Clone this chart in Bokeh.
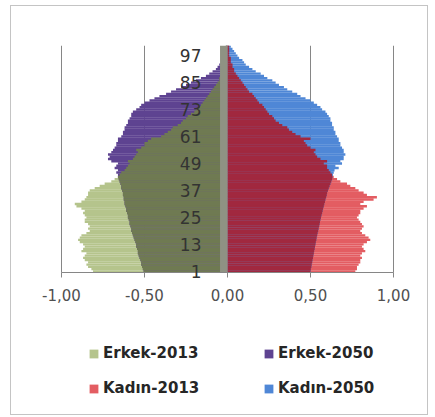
from bokeh.plotting import figure
from bokeh.models import (FixedTicker, Legend, LegendItem, LinearAxis, Range1d,
                          CustomJSTickFormatter, ColumnDataSource)
from bokeh.embed import file_html
from bokeh.resources import INLINE
import numpy as np

ages = list(range(1, 102))

erkek_2013 = [
    -0.81, -0.82, -0.84, -0.85, -0.84, -0.86, -0.87, -0.86, -0.85, -0.88,
    -0.87, -0.86, -0.87, -0.89, -0.90, -0.89, -0.88, -0.85, -0.83, -0.84,
    -0.83, -0.84, -0.86, -0.86, -0.85, -0.86, -0.87, -0.86, -0.88, -0.91,
    -0.92, -0.88, -0.86, -0.85, -0.84, -0.84, -0.83, -0.80, -0.77, -0.74,
    -0.70, -0.68, -0.66, -0.65, -0.64, -0.62, -0.61, -0.60, -0.59, -0.60,
    -0.57, -0.56, -0.55, -0.54, -0.55, -0.52, -0.50, -0.50, -0.48, -0.46,
    -0.40, -0.38, -0.36, -0.34, -0.33, -0.30, -0.28, -0.27, -0.25, -0.24,
    -0.22, -0.20, -0.19, -0.17, -0.16, -0.15, -0.14, -0.13, -0.12, -0.11,
    -0.10, -0.09, -0.08, -0.07, -0.06, -0.05, -0.05, -0.04, -0.04, -0.03,
    -0.03, -0.02, -0.02, -0.01, -0.01, -0.01, -0.01, -0.01, -0.01, -0.01,
    -0.01]

erkek_2050 = [
    -0.505, -0.51, -0.515, -0.52, -0.52, -0.525, -0.53, -0.535, -0.54, -0.54,
    -0.545, -0.55, -0.55, -0.555, -0.56, -0.565, -0.57, -0.575, -0.58, -0.58,
    -0.585, -0.59, -0.59, -0.595, -0.60, -0.60, -0.605, -0.61, -0.61, -0.615,
    -0.62, -0.62, -0.625, -0.625, -0.63, -0.63, -0.635, -0.64, -0.64, -0.645,
    -0.65, -0.655, -0.66, -0.66, -0.67, -0.66, -0.68, -0.67, -0.66, -0.70,
    -0.72, -0.71, -0.72, -0.70, -0.69, -0.68, -0.67, -0.67, -0.66, -0.66,
    -0.64, -0.63, -0.63, -0.62, -0.62, -0.61, -0.60, -0.60, -0.59, -0.58,
    -0.58, -0.57, -0.55, -0.53, -0.52, -0.50, -0.47, -0.44, -0.41, -0.37,
    -0.34, -0.31, -0.28, -0.25, -0.22, -0.19, -0.16, -0.13, -0.11, -0.09,
    -0.07, -0.06, -0.05, -0.04, -0.03, -0.03, -0.02, -0.02, -0.01, -0.01,
    -0.01]

kadin_2013 = [
    0.77, 0.78, 0.78, 0.79, 0.80, 0.80, 0.81, 0.80, 0.81, 0.83,
    0.82, 0.81, 0.82, 0.84, 0.86, 0.85, 0.83, 0.81, 0.80, 0.81,
    0.82, 0.81, 0.80, 0.79, 0.78, 0.79, 0.80, 0.80, 0.82, 0.84,
    0.80, 0.82, 0.88, 0.90, 0.84, 0.82, 0.79, 0.77, 0.74, 0.72,
    0.68, 0.66, 0.64, 0.63, 0.62, 0.61, 0.60, 0.60, 0.58, 0.60,
    0.56, 0.54, 0.53, 0.52, 0.53, 0.50, 0.48, 0.47, 0.46, 0.50,
    0.44, 0.41, 0.39, 0.37, 0.36, 0.33, 0.31, 0.29, 0.28, 0.27,
    0.25, 0.24, 0.23, 0.22, 0.21, 0.19, 0.18, 0.17, 0.16, 0.15,
    0.13, 0.12, 0.11, 0.10, 0.09, 0.08, 0.07, 0.06, 0.05, 0.04,
    0.04, 0.03, 0.03, 0.02, 0.02, 0.02, 0.01, 0.01, 0.01, 0.01,
    0.01]

kadin_2050 = [
    0.50, 0.502, 0.505, 0.507, 0.51, 0.512, 0.515, 0.517, 0.52, 0.522,
    0.525, 0.527, 0.53, 0.532, 0.535, 0.537, 0.54, 0.543, 0.546, 0.549,
    0.552, 0.555, 0.557, 0.56, 0.563, 0.566, 0.57, 0.573, 0.576, 0.58,
    0.583, 0.587, 0.59, 0.594, 0.598, 0.60, 0.605, 0.61, 0.615, 0.62,
    0.625, 0.63, 0.632, 0.635, 0.64, 0.645, 0.67, 0.65, 0.69, 0.68,
    0.70, 0.70, 0.71, 0.70, 0.70, 0.69, 0.68, 0.68, 0.67, 0.67,
    0.66, 0.65, 0.65, 0.64, 0.64, 0.63, 0.63, 0.62, 0.62, 0.61,
    0.60, 0.59, 0.57, 0.56, 0.54, 0.52, 0.50, 0.47, 0.44, 0.42,
    0.39, 0.36, 0.34, 0.31, 0.29, 0.27, 0.24, 0.22, 0.20, 0.17,
    0.15, 0.13, 0.11, 0.10, 0.09, 0.07, 0.06, 0.05, 0.04, 0.03,
    0.02]

x_ticks = [-1.0, -0.5, 0.0, 0.5, 1.0]
grid_ticks = [-1.0, -0.5, 0.5, 1.0]
y_ticks = [1, 13, 25, 37, 49, 61, 73, 85, 97]
series_names = ["Erkek-2013", "Erkek-2050", "Kadın-2013", "Kadın-2050"]

C_M13 = "#B5C48C"
C_M50 = "#5E4391"
C_MOV = "#6F7A52"
C_F13 = "#E35D62"
C_F50 = "#4F87D6"
C_FOV = "#A1283F"
FONT = "DejaVu Sans"

m13 = np.array(erkek_2013)
m50 = np.array(erkek_2050)
f13 = np.array(kadin_2013)
f50 = np.array(kadin_2050)

src = ColumnDataSource(dict(
    age=ages, m13=m13, m50=m50, mov=np.maximum(m13, m50),
    f13=f13, f50=f50, fov=np.minimum(f13, f50), zero=np.zeros(len(ages))))

# ---- layout (page pixels) ----
ORIGIN_X, ORIGIN_Y = 11, 6          # content origin (margin + border)
AX_L, AX_R = 61, 393                 # pixel positions of -1 and +1
FR_L, FR_R = 20, 425                 # frame extent (wider, so end labels are not clipped)
FR_T, FR_B = 45, 410
BAR_B = 272                          # bottom of the bar area
PXU = (AX_R - AX_L) / 2.0
x_start = -1 - (AX_L - FR_L) / PXU
x_end = 1 + (FR_R - AX_R) / PXU
Y_TOP = 101.5
Y_BARS0 = 0.5
y_per_px = (Y_TOP - Y_BARS0) / (BAR_B - FR_T)
y_start = Y_TOP - (FR_B - FR_T) * y_per_px

W, H = 418, 410
p = figure(width=W, height=H, x_range=Range1d(x_start, x_end), y_range=Range1d(y_start, Y_TOP),
           output_backend="svg", toolbar_location=None, y_axis_location=None,
           min_border_left=FR_L - ORIGIN_X, min_border_right=ORIGIN_X + W - FR_R,
           min_border_top=FR_T - ORIGIN_Y, min_border_bottom=ORIGIN_Y + H - FR_B)
p.styles = {"border": "1px solid #c4c4c4", "margin-left": "10px", "margin-top": "5px"}
p.outline_line_color = None
p.background_fill_color = "white"
p.border_fill_color = "white"
p.xgrid.grid_line_color = None
p.ygrid.grid_line_color = None

# vertical gridlines limited to the bar area
p.segment(x0=grid_ticks, y0=[Y_BARS0] * len(grid_ticks), x1=grid_ticks,
          y1=[Y_TOP] * len(grid_ticks), line_color="#868686", line_width=1)

BH = 1.06
r_m13 = p.hbar(y="age", height=BH, left="m13", right="zero", source=src,
               fill_color=C_M13, line_color=None)
r_m50 = p.hbar(y="age", height=BH, left="m50", right="zero", source=src,
               fill_color=C_M50, line_color=None)
p.hbar(y="age", height=BH, left="mov", right="zero", source=src,
       fill_color=C_MOV, line_color=None)
r_f13 = p.hbar(y="age", height=BH, left="zero", right="f13", source=src,
               fill_color=C_F13, line_color=None)
r_f50 = p.hbar(y="age", height=BH, left="zero", right="f50", source=src,
               fill_color=C_F50, line_color=None)
p.hbar(y="age", height=BH, left="zero", right="fov", source=src,
       fill_color=C_FOV, line_color=None)
# grey axis strip
p.quad(left=-0.045, right=0.0, bottom=Y_BARS0, top=Y_TOP, fill_color="#8f9283",
       line_color=None)

# x axis drawn at the bottom of the bars
p.xaxis.fixed_location = Y_BARS0
p.xaxis.bounds = (-1, 1)
p.xaxis.ticker = FixedTicker(ticks=x_ticks)
p.xaxis.formatter = CustomJSTickFormatter(code="return tick.toFixed(2).replace('.', ',');")
p.xaxis.axis_line_color = "#868686"
p.xaxis.major_tick_line_color = "#868686"
p.xaxis.major_tick_out = 5
p.xaxis.major_tick_in = 0
p.xaxis.minor_tick_line_color = None
p.xaxis.major_label_text_font = FONT
p.xaxis.major_label_text_font_size = "15px"
p.xaxis.major_label_text_color = "#505050"
p.xaxis.major_label_standoff = 11

# y axis at x = 0
yax = LinearAxis(fixed_location=0, ticker=FixedTicker(ticks=y_ticks))
yax.axis_line_color = None
yax.major_tick_line_color = None
yax.minor_tick_line_color = None
yax.major_label_text_font = FONT
yax.major_label_text_font_size = "17px"
yax.major_label_text_color = "#333333"
yax.major_label_standoff = 20
p.add_layout(yax, "left")

legend = Legend(items=[
    LegendItem(label=series_names[0], renderers=[r_m13]),
    LegendItem(label=series_names[2], renderers=[r_f13]),
    LegendItem(label=series_names[1], renderers=[r_m50]),
    LegendItem(label=series_names[3], renderers=[r_f50]),
], location=(88 - FR_L, FR_B - 398), ncols=2)
legend.border_line_color = None
legend.background_fill_alpha = 0
legend.label_text_font = FONT
legend.label_text_font_size = "15px"
legend.label_text_font_style = "bold"
legend.label_text_color = "#262626"
legend.glyph_width = 11
legend.glyph_height = 11
legend.label_standoff = 4
legend.padding = 0
legend.margin = 0
legend.spacing = 15
legend.label_height = 20
legend.label_width = 145
p.add_layout(legend, "center")

open("out.html", "w").write(file_html(p, INLINE))
